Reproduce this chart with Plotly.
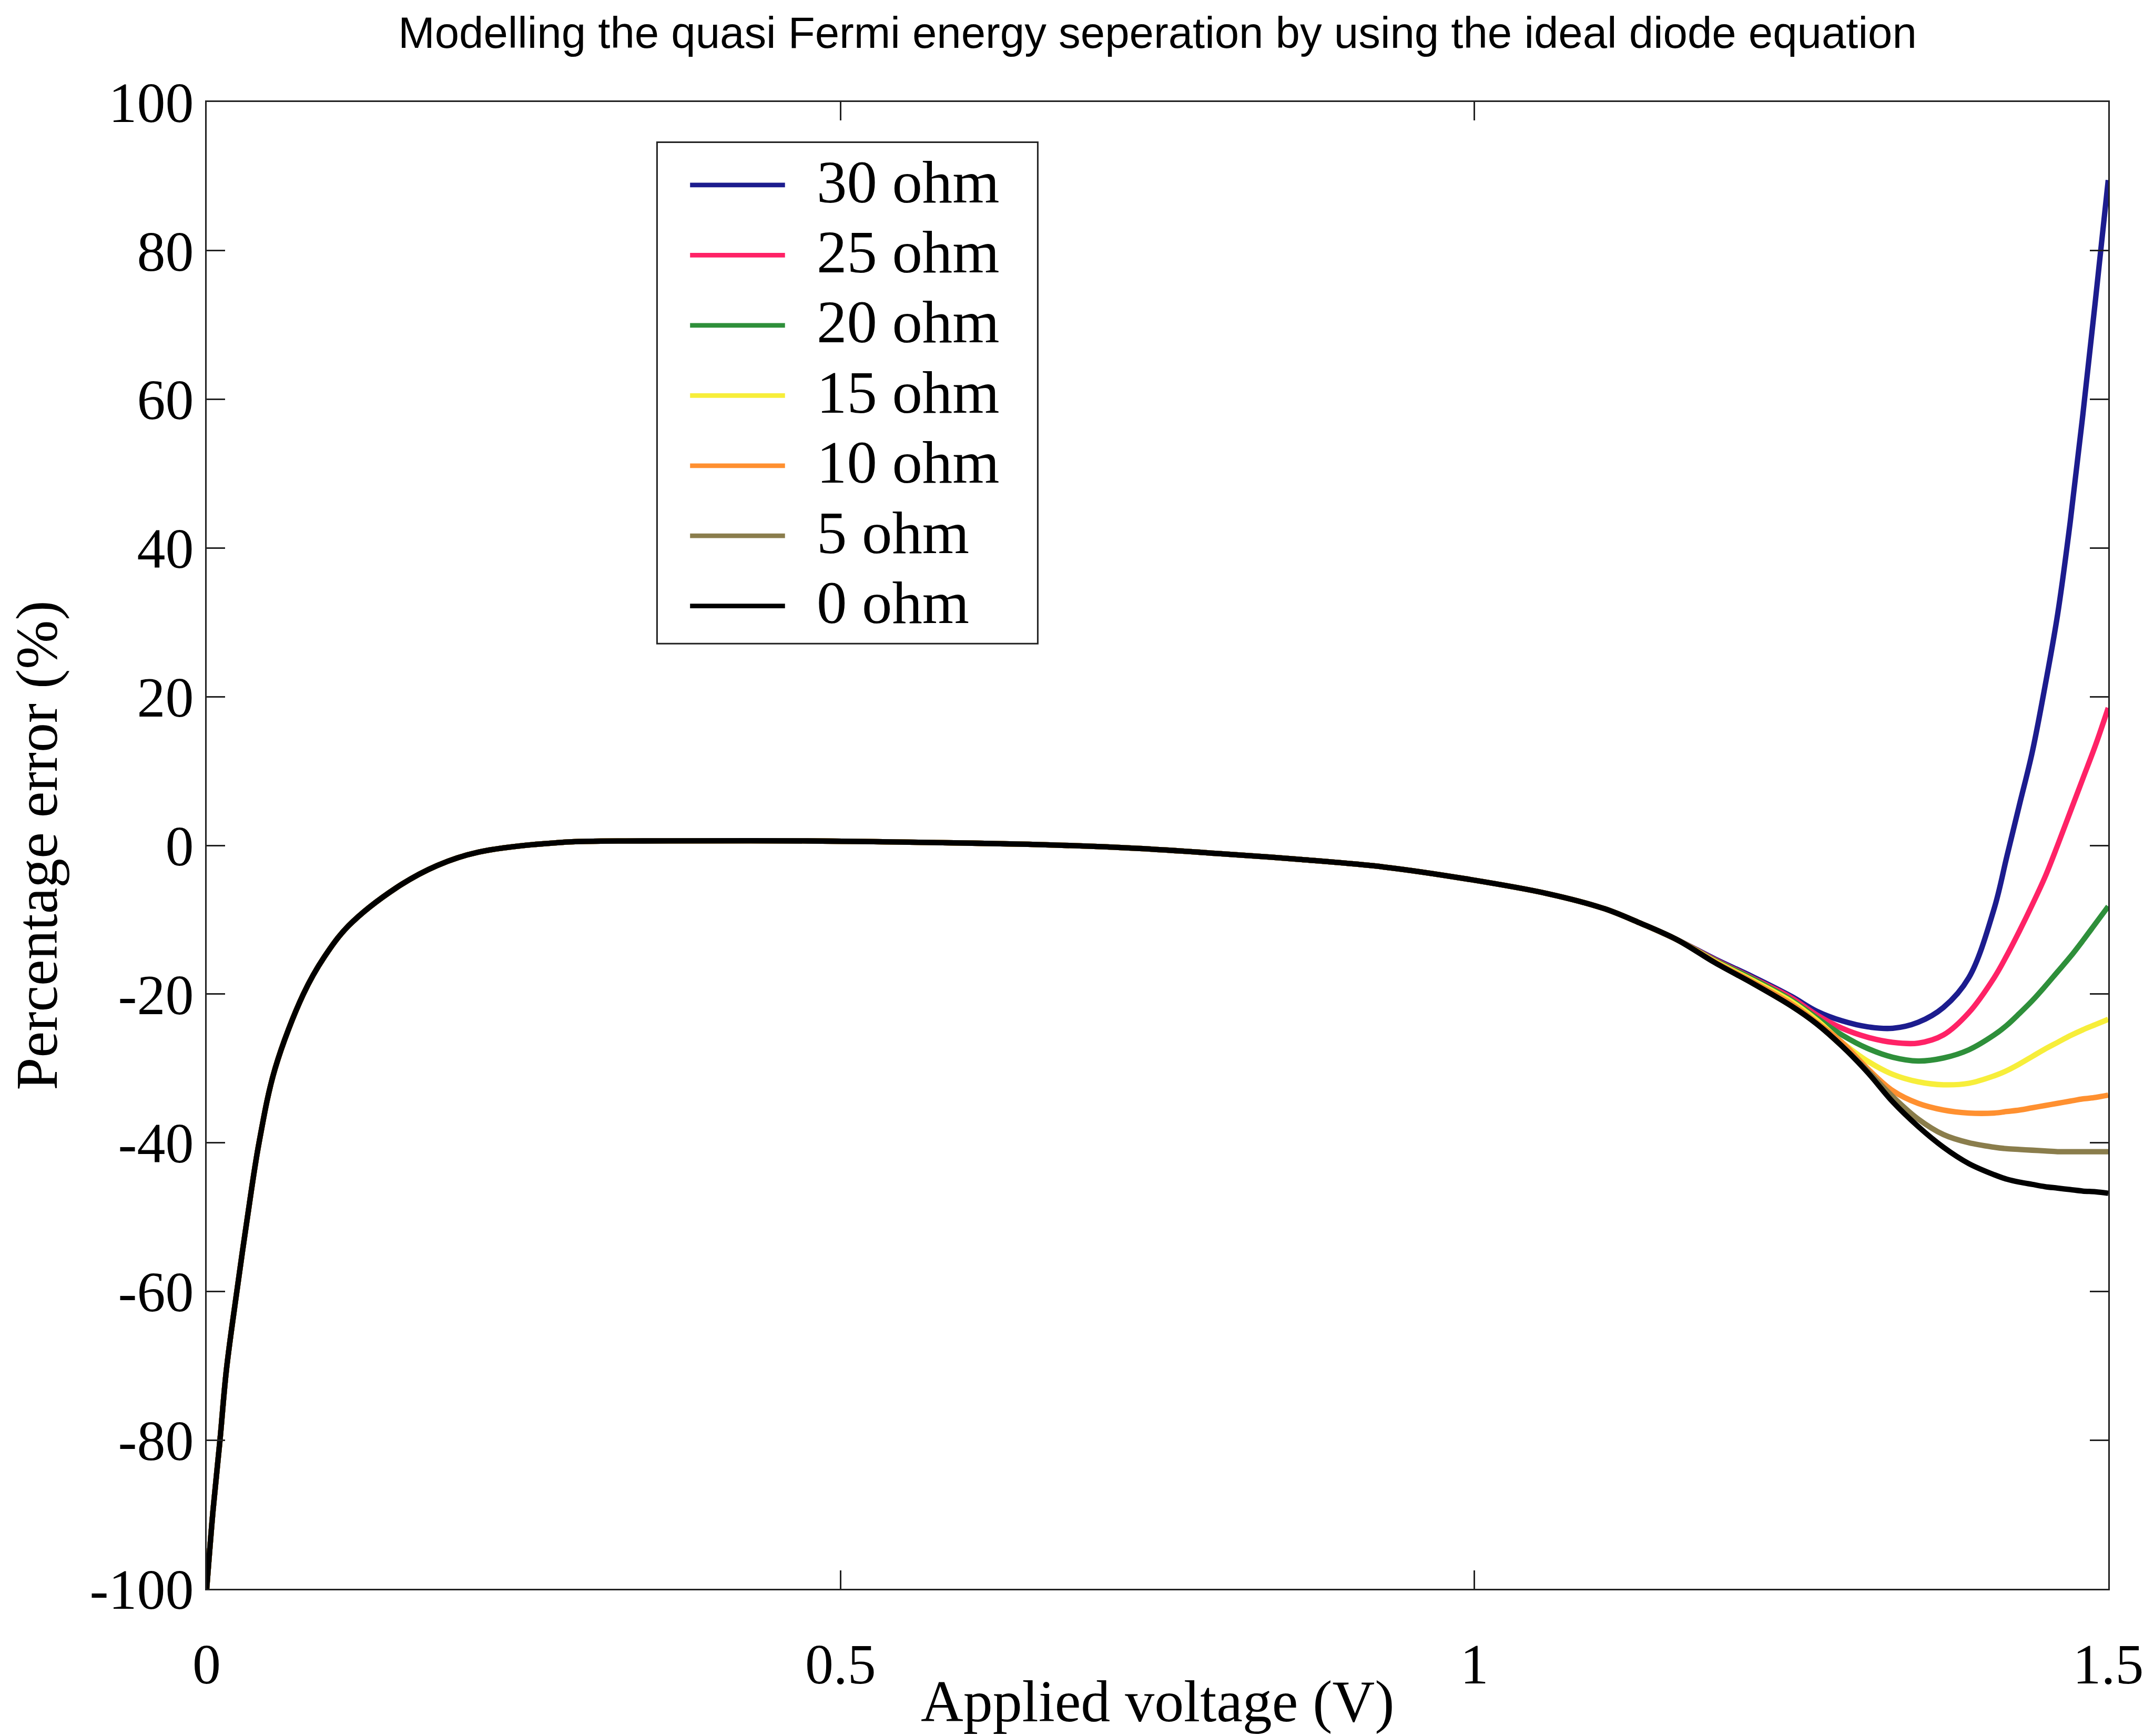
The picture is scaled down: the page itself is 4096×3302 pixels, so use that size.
import plotly.graph_objects as go

# ---------------- data ----------------
series_names = ["30 ohm", "25 ohm", "20 ohm", "15 ohm", "10 ohm", "5 ohm", "0 ohm"]
series_colors = ["#1c1c8e", "#ff2266", "#2e8f3a", "#f7ee3a", "#ff9030", "#8a7d4c", "#000000"]

# shared part of every curve (curves coincide up to ~1.16 V)
v_common = [0, 0.0051, 0.0105, 0.0156, 0.0238, 0.032, 0.0413, 0.054, 0.0763, 0.0928,
            0.112, 0.1496, 0.1819, 0.2145, 0.2794, 0.3443, 0.474, 0.604, 0.6688,
            0.7337, 0.7985, 0.8635, 0.9284, 0.9934, 1.058, 1.1023, 1.13, 1.16]
e_common = [-100, -89.3, -80, -70.5, -60, -50.2, -40, -30, -20, -15,
            -10.8, -5.7, -2.7, -0.9, 0.4, 0.6, 0.6, 0.3, 0.05,
            -0.4, -1.1, -1.9, -2.9, -4.5, -6.5, -8.5, -10.4, -12.7]

# tail where the curves fan out
v_tail = [1.19, 1.22, 1.25, 1.27, 1.29, 1.31, 1.33, 1.35, 1.37, 1.39,
          1.41, 1.42, 1.43, 1.44, 1.45, 1.46, 1.47, 1.48, 1.49, 1.5]
e_30 = [-15.3, -17.7, -20.3, -22.3, -23.6, -24.4, -24.6, -23.8, -21.8, -17.8,
        -8.5, -1.5, 5.5, 12.5, 21.3, 31.0, 43.5, 58.0, 73.5, 89.5]
e_25 = [-15.4, -17.9, -20.5, -22.8, -24.6, -25.8, -26.5, -26.6, -25.5, -22.5,
        -17.8, -14.8, -11.5, -8.0, -4.3, 0.0, 4.5, 9.0, 13.5, 18.5]
e_20 = [-15.5, -18.0, -20.8, -23.2, -25.5, -27.3, -28.5, -29.0, -28.6, -27.5,
        -25.5, -24.2, -22.6, -20.9, -19.0, -17.0, -15.0, -12.8, -10.5, -8.2]
e_15 = [-15.6, -18.2, -21.0, -23.5, -26.5, -29.0, -30.8, -31.8, -32.2, -32.0,
        -31.0, -30.3, -29.4, -28.4, -27.4, -26.5, -25.6, -24.8, -24.1, -23.4]
e_10 = [-15.7, -18.4, -21.3, -23.8, -26.5, -30.0, -33.0, -34.7, -35.6, -36.0,
        -36.0, -35.8, -35.6, -35.3, -35.0, -34.7, -34.4, -34.1, -33.9, -33.6]
e_5 = [-15.8, -18.6, -21.6, -24.0, -27.0, -30.3, -33.8, -36.8, -38.9, -40.0,
       -40.6, -40.8, -40.9, -41.0, -41.1, -41.2, -41.2, -41.2, -41.2, -41.2]
e_0 = [-15.8, -18.6, -21.6, -24.0, -27.0, -30.5, -34.5, -37.8, -40.6, -42.8,
       -44.3, -44.9, -45.3, -45.6, -45.9, -46.1, -46.3, -46.5, -46.6, -46.8]
tails = [e_30, e_25, e_20, e_15, e_10, e_5, e_0]

x_ticks = [0, 0.5, 1, 1.5]
x_tick_labels = ["0", "0.5", "1", "1.5"]
y_ticks = [-100, -80, -60, -40, -20, 0, 20, 40, 60, 80, 100]
y_tick_labels = [str(t) for t in y_ticks]

# ---------------- figure ----------------
S = 0.981
W, H = 4096, 3302
serif = "Liberation Serif, Times New Roman, serif"
sans = "Liberation Sans, Arial, Helvetica, sans-serif"

# plot-area frame in reference pixels (used to place layout items)
PL, PR, PT, PB = 392, 4078, 190, 3072


def px_x(xr):
    return (xr - PL) / (PR - PL)


def px_y(yr):
    return (PB - yr) / (PB - PT)


LINE_W = 10.5 * S

fig = go.Figure()
for name, color, tail in zip(series_names, series_colors, tails):
    fig.add_trace(go.Scatter(
        x=v_common + v_tail, y=e_common + tail, mode="lines", name=name,
        line=dict(color=color, width=LINE_W, shape="spline", smoothing=1.0),
        showlegend=False,
    ))

axis_common = dict(
    showgrid=False, zeroline=False, showline=True, linecolor="#222222",
    linewidth=3, mirror="ticks", ticks="inside", ticklen=36 * S, tickwidth=3,
    tickcolor="#222222", tickfont=dict(family=serif, size=110 * S, color="black"),
)

shapes = []
annotations = []

# legend box
shapes.append(dict(type="rect", xref="paper", yref="paper",
                   x0=px_x(1265), x1=px_x(2003), y0=px_y(1240), y1=px_y(268),
                   line=dict(color="#222222", width=3), fillcolor="white", layer="above"))
for i, (name, color) in enumerate(zip(series_names, series_colors)):
    yr = 351 + 136 * i
    shapes.append(dict(type="line", xref="paper", yref="paper",
                       x0=px_x(1329), x1=px_x(1513), y0=px_y(yr), y1=px_y(yr),
                       line=dict(color=color, width=LINE_W * 0.85), layer="above"))
    annotations.append(dict(text=name, xref="paper", yref="paper",
                            x=px_x(1572), y=px_y(yr - 6), xanchor="left", yanchor="middle",
                            showarrow=False,
                            font=dict(family=serif, size=117 * S, color="black")))

# x-axis title
annotations.append(dict(text="Applied voltage (V)", xref="paper", yref="paper",
                        x=0.5, y=px_y(3290), xanchor="center", yanchor="middle",
                        showarrow=False,
                        font=dict(family=serif, size=114 * S, color="black")))

fig.update_layout(
    width=W, height=H,
    paper_bgcolor="white", plot_bgcolor="white",
    margin=dict(l=round(PL * S), r=W - round(PR * S), t=round(PT * S), b=H - round(PB * S)),
    title=dict(text="Modelling the quasi Fermi energy seperation by using the ideal diode equation",
               font=dict(family=sans, size=85 * S, color="black"),
               x=0.5, xanchor="center", xref="paper",
               y=1 - 55 * S / H, yanchor="middle", yref="container"),
    xaxis=dict(range=[0, 1.5], tickvals=x_ticks, ticktext=x_tick_labels,
               ticklabelstandoff=48,
               **axis_common),
    yaxis=dict(range=[-100, 100], tickvals=y_ticks, ticktext=y_tick_labels,
               title=dict(text="Percentage error (%)", font=dict(family=serif, size=114 * S, color="black"),
                          standoff=40),
               **axis_common),
    shapes=shapes,
    annotations=annotations,
    showlegend=False,
)

fig.write_html("out.html")
